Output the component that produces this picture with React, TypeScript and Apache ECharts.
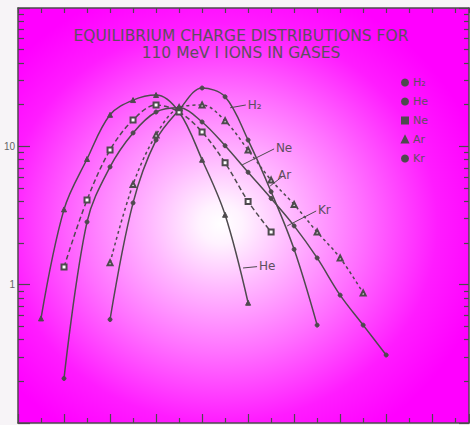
import React, { useEffect, useRef } from "react";
import * as echarts from "echarts";

// charge-state index (tick units along the x axis)
const charge = [1, 2, 3, 4, 5, 6, 7, 8, 9, 10, 11, 12, 13, 14, 15, 16];
// fractions in percent (log scale)
const h2 = [null, null, null, 0.56, 3.9, 11.1, 18.3, 26.4, 22.8, 11.1, 4.7, 1.8, 0.51, null, null, null];
const he = [0.57, 3.5, 8.1, 16.9, 21.6, 23.5, 17.7, 8.0, 3.2, 0.74, null, null, null, null, null, null];
const ne = [null, 1.34, 4.1, 9.4, 15.5, 19.9, 17.7, 12.7, 7.6, 4.0, 2.4, null, null, null, null, null];
const ar = [null, null, null, 1.44, 5.3, 12.1, 19.0, 19.9, 15.3, 9.4, 5.7, 3.8, 2.4, 1.56, 0.87, null];
const kr = [null, 0.21, 2.84, 7.1, 12.5, 17.7, 19.0, 15.0, 10.1, 6.5, 4.2, 2.66, 1.56, 0.84, 0.51, 0.31];

const names = ["H₂", "He", "Ne", "Ar", "Kr"];
const yMinorLog = [-1, 0, 1].flatMap((d) => [2, 3, 4, 5, 6, 7, 8, 9].map((m) => d + Math.log10(m)));

// label leader lines: [from charge, from value, to charge, to value]
const leaders: Record<string, number[]> = {
  "H₂": [9.22, 19.0, 9.9, 19.9],
  He: [9.78, 1.32, 10.39, 1.35],
  Ne: [9.74, 7.34, 11.13, 9.58],
  Ar: [10.96, 5.17, 11.52, 6.11],
  Kr: [11.7, 2.66, 12.96, 3.41],
};

const ink = "#4e4a4e";
const textInk = "#5e4e5e";

export default function App() {
  const ref = useRef<HTMLDivElement>(null);
  useEffect(() => {
    if (!ref.current) return;
    const chart = echarts.init(ref.current, undefined, { renderer: "svg" });
    const mk = (
      name: string,
      vals: (number | null)[],
      symbol: string,
      symbolSize: number,
      dash: any
    ) => {
      const l = leaders[name];
      return {
        type: "line",
        name,
        data: charge.map((q, i) => [q, vals[i]]),
        smooth: 0.35,
        symbol,
        symbolSize,
        showSymbol: true,
        connectNulls: false,
        lineStyle: { color: ink, width: 1.5, type: dash },
        itemStyle: { color: ink, borderColor: ink, borderWidth: 1 },
        markLine: {
          silent: true,
          symbol: ["none", "none"],
          lineStyle: { color: ink, width: 1, type: "solid" },
          label: {
            show: true,
            position: "end",
            formatter: name,
            color: textInk,
            fontSize: 12,
            fontFamily: "DejaVu Sans",
            distance: 2,
          },
          data: [[{ coord: [l[0], l[1]] }, { coord: [l[2], l[3]] }]],
        },
      };
    };
    const axisLineStyle = { color: ink, width: 1.5 };
    chart.setOption({
      animation: false,
      backgroundColor: "#f7f4f7",
      title: {
        text: "EQUILIBRIUM CHARGE DISTRIBUTIONS FOR\n110 MeV I IONS IN GASES",
        left: 236,
        top: 22,
        textAlign: "center",
        textStyle: {
          fontSize: 15.5,
          fontWeight: "normal",
          color: textInk,
          lineHeight: 17,
          fontFamily: "DejaVu Sans",
        },
      },
      legend: {
        orient: "vertical",
        left: 396,
        top: 72,
        itemWidth: 6,
        itemHeight: 6,
        itemGap: 8,
        textStyle: { fontSize: 11, color: textInk, fontFamily: "DejaVu Sans" },
        data: [
          { name: "H₂", icon: "circle" },
          { name: "He", icon: "circle" },
          { name: "Ne", icon: "rect" },
          { name: "Ar", icon: "triangle" },
          { name: "Kr", icon: "circle" },
        ],
      },
      grid: {
        left: 18,
        top: 8,
        right: 1,
        bottom: 2,
        show: true,
        borderWidth: 0,
        backgroundColor: new echarts.graphic.RadialGradient(0.45, 0.52, 0.6, [
          { offset: 0, color: "#ffffff" },
          { offset: 0.08, color: "#fff2ff" },
          { offset: 0.26, color: "#ffbaff" },
          { offset: 0.52, color: "#ff70ff" },
          { offset: 0.8, color: "#ff1cff" },
          { offset: 1, color: "#ff00ff" },
        ]),
      },
      xAxis: [
        {
          type: "value",
          min: 0,
          max: 19.6,
          interval: 2,
          position: "bottom",
          axisLine: { show: true, onZero: false, lineStyle: axisLineStyle },
          axisTick: { show: true, inside: true, length: 9, lineStyle: { color: ink, width: 1.2 } },
          minorTick: { show: true, splitNumber: 2, length: 5, lineStyle: { color: ink, width: 1.2 } },
          axisLabel: { show: false },
          splitLine: { show: false },
        },
        {
          type: "value",
          min: 0,
          max: 19.6,
          interval: 1,
          position: "top",
          axisLine: { show: true, onZero: false, lineStyle: axisLineStyle },
          axisTick: { show: true, inside: true, length: 5, lineStyle: { color: ink, width: 1.2 } },
          axisLabel: { show: false },
          splitLine: { show: false },
        },
      ],
      yAxis: [
        {
          type: "log",
          logBase: 10,
          min: 0.1,
          max: 100,
          position: "left",
          axisLine: { show: true, onZero: false, lineStyle: axisLineStyle },
          axisTick: { show: true, inside: true, length: 12, lineStyle: { color: ink, width: 1.2 } },
          axisLabel: {
            show: true,
            margin: 3,
            fontSize: 10,
            color: "#666",
            formatter: (v: number) => (v === 10 || v === 1 ? String(v) : ""),
          },
          splitLine: { show: false },
        },
        {
          type: "value",
          min: -1,
          max: 2,
          position: "left",
          axisLine: { show: false, onZero: false },
          axisTick: { show: true, inside: true, length: 6, customValues: yMinorLog, lineStyle: { color: ink, width: 1.2 } },
          axisLabel: { show: false },
          splitLine: { show: false },
        },
        {
          type: "log",
          logBase: 10,
          min: 0.1,
          max: 100,
          position: "right",
          axisLine: { show: true, onZero: false, lineStyle: axisLineStyle },
          axisTick: { show: true, inside: true, length: 10, lineStyle: { color: ink, width: 1.2 } },
          axisLabel: { show: false },
          splitLine: { show: false },
        },
        {
          type: "value",
          min: -1,
          max: 2,
          position: "right",
          axisLine: { show: false, onZero: false },
          axisTick: { show: true, inside: true, length: 5, customValues: yMinorLog, lineStyle: { color: ink, width: 1.2 } },
          axisLabel: { show: false },
          splitLine: { show: false },
        },
      ],
      series: [
        mk(names[0], h2, "circle", 4, "solid"),
        mk(names[1], he, "triangle", 5, "solid"),
        mk(names[2], ne, "emptyRect", 5, [5, 3]),
        mk(names[3], ar, "emptyTriangle", 5, [3, 3]),
        mk(names[4], kr, "circle", 4, "solid"),
      ],
    });
    return () => chart.dispose();
  }, []);
  return (
    <div
      ref={ref}
      style={{ position: "fixed", left: 0, top: 0, width: 470, height: 425 }}
    />
  );
}
